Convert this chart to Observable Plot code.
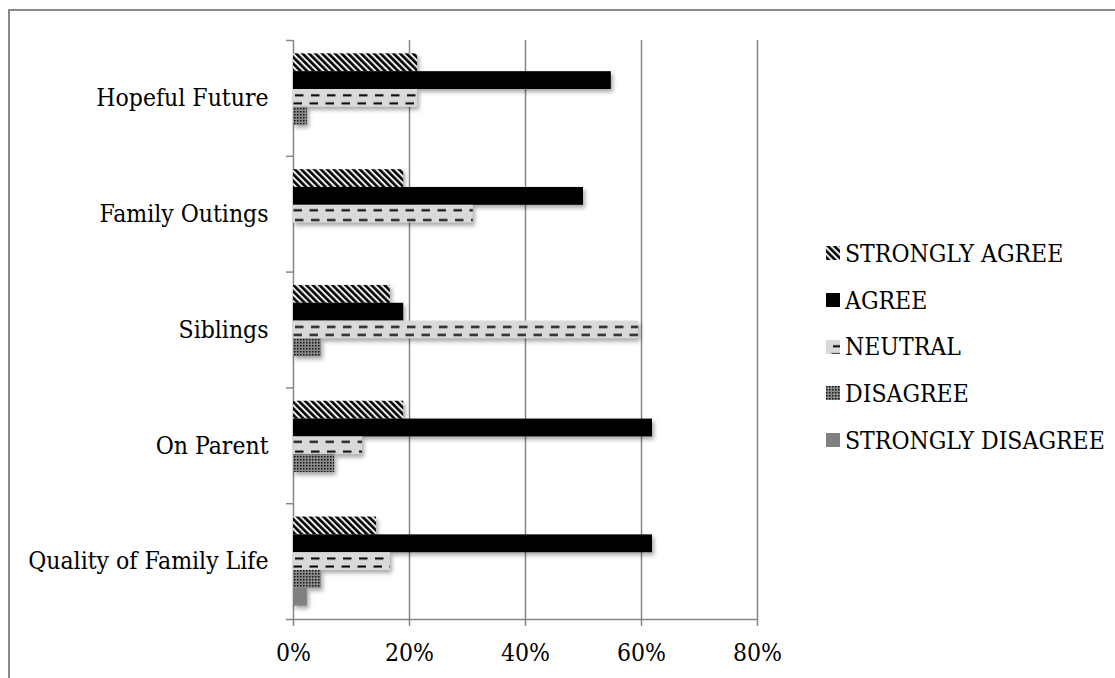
<!DOCTYPE html>
<html>
<head>
<meta charset="utf-8">
<script src="https://cdn.jsdelivr.net/npm/d3@7"></script>
<script src="https://cdn.jsdelivr.net/npm/@observablehq/plot@0.6"></script>
<style>
  body { margin: 0; background: #fff; }
  #wrap { position: relative; width: 1115px; height: 678px; overflow: hidden;
    font-family: "DejaVu Serif Condensed", "DejaVu Serif", serif; font-stretch: condensed; }
  #border { position: absolute; left: 8px; top: 9px; width: 1200px; height: 800px; border-top: 2px solid #8a8a8a; border-left: 2px solid #8a8a8a; pointer-events: none; }
  #chart { position: absolute; left: 0; top: 0; }
  #chart svg text { font-stretch: condensed; }
  #legend { position: absolute; left: 826px; top: 230px; }
  .item { display: flex; align-items: center; height: 46.7px; font-size: 24.5px; color: #000; white-space: nowrap; }
  .item svg { margin-right: 5px; }
</style>
</head>
<body>
<div id="wrap">
  <div id="border"></div>
  <div id="chart"></div>
  <div id="legend"></div>
</div>
<script>
// Survey items, top to bottom
const categories = ["Hopeful Future", "Family Outings", "Siblings", "On Parent", "Quality of Family Life"];
// Response levels, in the order they are stacked within each item
const levels = ["STRONGLY AGREE", "AGREE", "NEUTRAL", "DISAGREE", "STRONGLY DISAGREE"];
// Share of respondents (%) per item
const strongAgree    = [21.4, 19.0, 16.7, 19.0, 14.3];
const agree          = [54.8, 50.0, 19.0, 61.9, 61.9];
const neutral        = [21.4, 31.0, 59.5, 11.9, 16.7];
const disagree       = [2.4, 0, 4.8, 7.1, 4.8];
const strongDisagree = [0, 0, 0, 0, 2.4];
const xTicks = [0, 20, 40, 60, 80];

const series = [strongAgree, agree, neutral, disagree, strongDisagree];
const fills = ["url(#pat-sa)", "#000000", "url(#pat-neutral)", "url(#pat-dis)", "#808080"];
const gapWidth = 1.5;                      // space between item groups, in bar heights
const slots = levels.length + gapWidth;    // slots per item band

const rows = levels.flatMap((level, li) =>
  categories.map((cat, ci) => ({level, li, cat, ci, value: series[li][ci]}))
);

const axisGray = "#868686";
const fontFamily = "'DejaVu Serif Condensed', 'DejaVu Serif', serif";

const plot = Plot.plot({
  width: 1115,
  height: 678,
  marginLeft: 293,
  marginRight: 358,
  marginTop: 40,
  marginBottom: 59,
  style: {fontFamily, fontSize: "24.5px", color: "#000", background: "transparent", overflow: "visible"},
  x: {domain: [0, 80], label: null},
  y: {domain: [0, categories.length], reverse: true, label: null},
  marks: [
    Plot.gridX({ticks: xTicks.slice(1), stroke: axisGray, strokeOpacity: 1, strokeWidth: 1.5}),
    Plot.ruleX([0], {stroke: axisGray, strokeWidth: 1.5}),
    Plot.ruleY([categories.length], {stroke: axisGray, strokeWidth: 1.5}),
    Plot.axisY({ticks: d3.range(categories.length + 1), tickSize: 7, text: null, stroke: axisGray, strokeWidth: 1.5, label: null}),
    Plot.axisY({ticks: categories.map((c, i) => i + 0.5), tickSize: 0, tickPadding: 25,
      tickFormat: (t) => categories[Math.floor(t)], fontSize: 24.5, label: null}),
    Plot.axisX({ticks: xTicks, tickSize: 7, tickPadding: 17, tickFormat: (d) => d + "%",
      stroke: axisGray, strokeWidth: 1.5, fontSize: 24.5, label: null}),
    ...levels.map((level, li) =>
      Plot.rectX(rows.filter((r) => r.li === li && r.value > 0), {
        x1: 0,
        x2: "value",
        y1: (r) => r.ci + (li + gapWidth / 2) / slots,
        y2: (r) => r.ci + (li + 1 + gapWidth / 2) / slots,
        fill: fills[li]
      })
    )
  ]
});

document.getElementById("chart").appendChild(plot);

// Fill patterns for the hatched series
const yScale = plot.scale("y");
const barH = yScale.apply(1 / slots) - yScale.apply(0);
const neutralTop = yScale.apply((2 + gapWidth / 2) / slots);

const svg = d3.select(plot);
const defs = svg.insert("defs", ":first-child");

// wide downward diagonal stripes
const sp = 4.6;
const sa = defs.append("pattern").attr("id", "pat-sa").attr("patternUnits", "userSpaceOnUse")
  .attr("width", sp).attr("height", sp).attr("patternTransform", "rotate(-45)");
sa.append("rect").attr("width", sp).attr("height", sp).attr("fill", "#eeeeee");
sa.append("rect").attr("width", sp * 0.56).attr("height", sp).attr("fill", "#000");

// dashed horizontal lines on light gray, two rows per bar
const nw = 16;
const ne = defs.append("pattern").attr("id", "pat-neutral").attr("patternUnits", "userSpaceOnUse")
  .attr("width", nw).attr("height", barH).attr("y", neutralTop).attr("x", plot.scale("x").apply(0));
ne.append("rect").attr("width", nw).attr("height", barH).attr("fill", "#d9d9d9");
ne.append("rect").attr("x", 2).attr("y", barH * 0.3).attr("width", 8.5).attr("height", 2).attr("fill", "#000");
ne.append("rect").attr("x", 0.5).attr("y", barH * 0.75).attr("width", 8.5).attr("height", 2).attr("fill", "#000");

// dotted grid on gray
const di = defs.append("pattern").attr("id", "pat-dis").attr("patternUnits", "userSpaceOnUse")
  .attr("width", 3).attr("height", 3);
di.append("rect").attr("width", 3).attr("height", 3).attr("fill", "#8a8a8a");
di.append("rect").attr("width", 1.5).attr("height", 1.5).attr("fill", "#111");

// soft drop shadow under the bars
svg.selectAll("g[aria-label='rect']").style("filter", "drop-shadow(2px 3px 2px rgba(0,0,0,0.35))");

// Legend
const legend = d3.select("#legend");
levels.forEach((level, li) => {
  const item = legend.append("div").attr("class", "item");
  const sw = item.append("svg").attr("width", 14).attr("height", 14);
  sw.append("rect").attr("width", 14).attr("height", 14).attr("fill", fills[li]);
  item.append("span").text(level);
});
</script>
</body>
</html>
